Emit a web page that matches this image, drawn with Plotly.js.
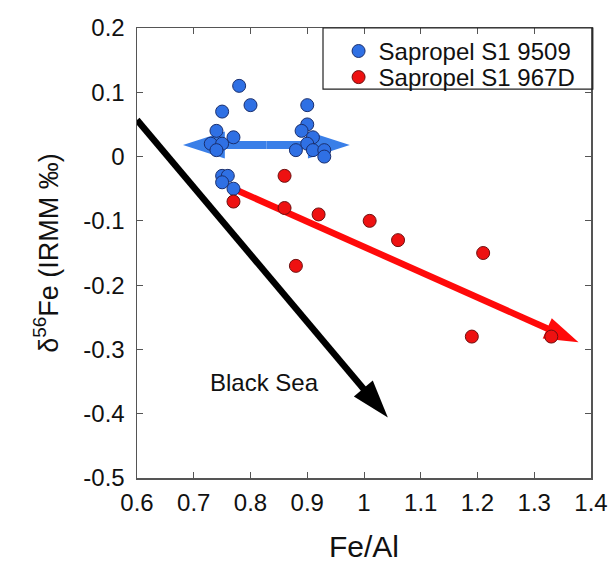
<!DOCTYPE html>
<html>
<head>
<meta charset="utf-8">
<script src="https://cdn.plot.ly/plotly-3.0.1.min.js"></script>
<style>html,body{margin:0;padding:0;background:#fff;}#chart{width:614px;height:564px;}</style>
</head>
<body>
<div id="chart"></div>
<script>
// Sapropel S1 9509 (blue)
const s9509_FeAl = [0.78, 0.80, 0.75, 0.90, 0.90, 0.89, 0.91, 0.74, 0.77, 0.73, 0.75, 0.74, 0.90, 0.88, 0.91, 0.93, 0.93, 0.75, 0.76, 0.75, 0.77];
const s9509_dFe  = [0.11, 0.08, 0.07, 0.08, 0.05, 0.04, 0.03, 0.04, 0.03, 0.02, 0.02, 0.01, 0.02, 0.01, 0.01, 0.01, 0.00, -0.03, -0.03, -0.04, -0.05];
// Sapropel S1 967D (red)
const s967D_FeAl = [0.86, 0.77, 0.86, 0.92, 1.01, 1.06, 1.21, 0.88, 1.19, 1.33];
const s967D_dFe  = [-0.03, -0.07, -0.08, -0.09, -0.10, -0.13, -0.15, -0.17, -0.28, -0.28];
// Trend arrows (tail -> head); blue one is double-headed (centre -> each end)
const blueArrowX = [0.828, 0.681, null, 0.828, 0.975];
const blueArrowY = [0.018, 0.018, null, 0.018, 0.018];
const redArrowX = [0.775, 1.378];
const redArrowY = [-0.052, -0.289];
const blackArrowX = [0.60, 1.042];
const blackArrowY = [0.057, -0.406];
const blackSeaLabel = {x: 0.8255, y: -0.352, text: "Black Sea"};
// Ticks
const xTickVals = [0.6, 0.7, 0.8, 0.9, 1.0, 1.1, 1.2, 1.3, 1.4];
const xTickText = ["0.6", "0.7", "0.8", "0.9", "1", "1.1", "1.2", "1.3", "1.4"];
const yTickVals = [0.2, 0.1, 0, -0.1, -0.2, -0.3, -0.4, -0.5];
const yTickText = ["0.2", "0.1", "0", "-0.1", "-0.2", "-0.3", "-0.4", "-0.5"];

const FONT = "Liberation Sans, Arial, sans-serif";

function arrowTrace(xs, ys, color, width, headSizes) {
  return {
    x: xs, y: ys, type: "scatter", mode: "lines+markers", showlegend: false, hoverinfo: "skip",
    line: {color: color, width: width, backoff: "auto"},
    marker: {symbol: "arrow", angleref: "previous", size: headSizes, color: color, opacity: 1, line: {width: 0}},
    connectgaps: false
  };
}

const traces = [
  arrowTrace(blackArrowX, blackArrowY, "#000000", 6.5, [0, 40]),
  arrowTrace(redArrowX, redArrowY, "#ff0a0a", 6.5, [0, 36]),
  arrowTrace(blueArrowX, blueArrowY, "#3a7fe8", 8, [0, 44, 0, 0, 44]),
  {
    x: s9509_FeAl, y: s9509_dFe, type: "scatter", mode: "markers", name: "Sapropel S1 9509",
    legend: "legend",
    marker: {size: 13, color: "#2f70e4", line: {color: "#1a2f6e", width: 1}}
  },
  {
    x: s967D_FeAl, y: s967D_dFe, type: "scatter", mode: "markers", name: "Sapropel S1 967D",
    legend: "legend2",
    marker: {size: 13, color: "#ee1111", line: {color: "#6e1010", width: 1}}
  }
];

const legendCommon = {
  xanchor: "left", yanchor: "top", bgcolor: "rgba(0,0,0,0)", borderwidth: 0,
  font: {family: FONT, size: 24, color: "#111"}
};

const layout = {
  width: 614, height: 564,
  margin: {l: 137, r: 23, t: 28, b: 86},
  paper_bgcolor: "#fff", plot_bgcolor: "#fff",
  showlegend: true,
  legend: Object.assign({x: 0.444, y: 0.998}, legendCommon),
  legend2: Object.assign({x: 0.444, y: 0.94}, legendCommon),
  shapes: [
    {type: "rect", xref: "paper", yref: "paper", x0: 0.4097, x1: 1.004, y0: 0.864, y1: 1.0,
     line: {color: "#222", width: 1.2}, fillcolor: "rgba(0,0,0,0)"}
  ],
  xaxis: {
    range: [0.6, 1.4], tickvals: xTickVals, ticktext: xTickText,
    ticks: "inside", ticklen: 6, tickcolor: "#555", showline: true, linecolor: "#555", linewidth: 1.5,
    mirror: "ticks", showgrid: false, zeroline: false, ticklabelstandoff: 3,
    tickfont: {family: FONT, size: 24, color: "#111"},
    title: {text: "Fe/Al", font: {family: FONT, size: 30, color: "#111"}, standoff: 20}
  },
  yaxis: {
    range: [-0.5, 0.2], tickvals: yTickVals, ticktext: yTickText,
    ticks: "inside", ticklen: 6, tickcolor: "#555", showline: true, linecolor: "#555", linewidth: 1.5,
    mirror: "ticks", showgrid: false, zeroline: false, ticklabelstandoff: 6,
    tickfont: {family: FONT, size: 24, color: "#111"},
    title: {text: "δ<sup>56</sup>Fe (IRMM ‰)", font: {family: FONT, size: 27, color: "#111"}, standoff: 17}
  },
  annotations: [
    {x: blackSeaLabel.x, y: blackSeaLabel.y, xref: "x", yref: "y", text: blackSeaLabel.text,
     showarrow: false, font: {family: FONT, size: 24, color: "#111"}}
  ]
};

Plotly.newPlot("chart", traces, layout, {displayModeBar: false, staticPlot: true});
</script>
</body>
</html>
